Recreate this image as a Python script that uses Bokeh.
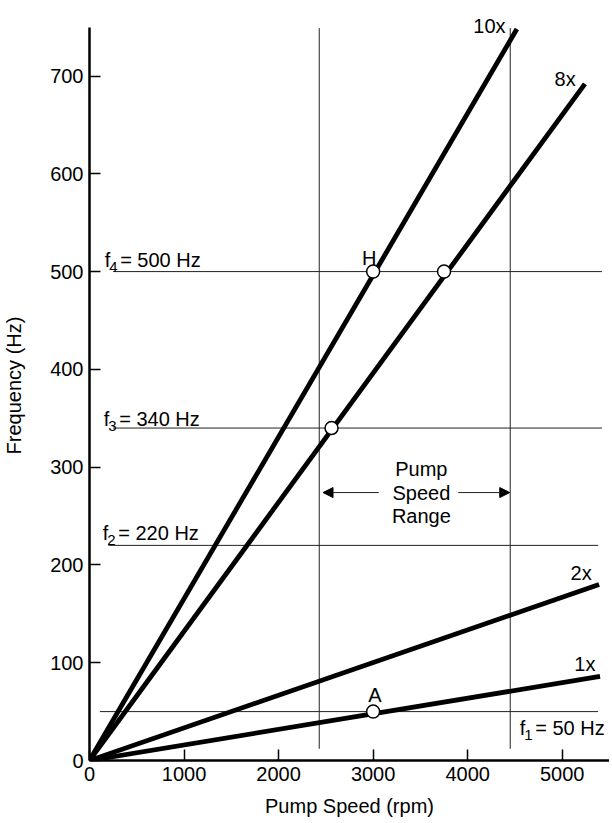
from bokeh.plotting import figure
from bokeh.models import Range1d, FixedTicker, Arrow, NormalHead
from bokeh.core.properties import value
from bokeh.embed import file_html
from bokeh.resources import INLINE

FONT = value("Liberation Sans")

# ---- data ----
# pump order lines (start at origin)
orders = ["1x", "2x", "8x", "10x"]
order_end_rpm = [5400, 5390, 5240, 4520]
order_end_hz = [86, 180, 692, 748]
order_label_rpm = [5240, 5200, 5030, 4230]
order_label_hz = [99, 192, 697, 751]

# forcing frequencies f1..f4
f_sub = ["1", "2", "3", "4"]
f_values = [50, 220, 340, 500]
f_text = ["= 50 Hz", "= 220 Hz", "= 340 Hz", "= 500 Hz"]
f_line_start = [110, 200, 250, 250]
f_line_end = [5380, 5380, 5420, 5420]
f_label_rpm = [4550, 140, 150, 160]
f_label_hz = [33, 233, 349, 512]

# pump speed range
range_rpm = [2430, 4450]
range_bottom_hz = [12, 12]
range_top_hz = [749, 749]
range_text = "Pump\nSpeed\nRange"
range_text_rpm = 3510
range_text_hz = 274
arrow_hz = 274
arrow_tail_rpm = [3060, 3900]
arrow_tip_rpm = [2470, 4445]

# intersection points
pt_rpm = [3000, 3000, 3750, 2560]
pt_hz = [50, 500, 500, 340]
pt_names = ["A", "H"]
pt_name_rpm = [3020, 2958]
pt_name_hz = [67, 514]

x_ticks = [0, 1000, 2000, 3000, 4000, 5000]
y_ticks = [0, 100, 200, 300, 400, 500, 600, 700]

p = figure(frame_width=520, frame_height=750,
           x_range=Range1d(0, 5500), y_range=Range1d(0, 767),
           output_backend="svg", toolbar_location=None,
           min_border_left=79, min_border_top=10, min_border_right=0,
           min_border_bottom=10)
p.outline_line_color = None
p.xgrid.visible = False
p.ygrid.visible = False
p.background_fill_color = "white"

for ax, ticks in ((p.xaxis, x_ticks), (p.yaxis, y_ticks)):
    ax.ticker = FixedTicker(ticks=ticks)
    ax.major_tick_in = 11
    ax.major_tick_out = 0
    ax.minor_tick_line_color = None
    ax.major_tick_line_width = 1.5
    ax.axis_line_width = 2.5
    ax.major_label_text_font = "Liberation Sans"
    ax.major_label_text_font_size = "20px"
    ax.major_label_text_color = "black"
    ax.axis_label_text_font = "Liberation Sans"
    ax.axis_label_text_font_size = "20px"
    ax.axis_label_text_font_style = "normal"
    ax.axis_label_text_color = "black"
p.yaxis.bounds = (0, 750)
p.xaxis.axis_label = "Pump Speed (rpm)"
p.yaxis.axis_label = "Frequency (Hz)"
p.xaxis.major_label_standoff = 6
p.yaxis.major_label_standoff = 6
p.xaxis.axis_label_standoff = 11
p.yaxis.axis_label_standoff = 22

# forcing frequency lines
p.segment(x0=f_line_start, y0=f_values, x1=f_line_end, y1=f_values,
          line_color="#222222", line_width=1)
# pump speed range lines
p.segment(x0=range_rpm, y0=range_bottom_hz, x1=range_rpm, y1=range_top_hz,
          line_color="#222222", line_width=1)

# order lines
p.segment(x0=[0] * len(orders), y0=[0] * len(orders),
          x1=order_end_rpm, y1=order_end_hz,
          line_color="black", line_width=4.8)

# points
p.scatter(pt_rpm, pt_hz, size=13, fill_color="white", line_color="black",
          line_width=1.5)

# labels
p.text(order_label_rpm, order_label_hz, text=orders, text_font=FONT,
       text_font_size="20px", text_align="center", text_baseline="middle")
p.text(pt_name_rpm, pt_name_hz, text=pt_names, text_font=FONT,
       text_font_size="20px", text_align="center", text_baseline="middle")
p.text(f_label_rpm, f_label_hz, text=["f"] * 4, text_font=FONT,
       text_font_size="20px", text_align="left", text_baseline="alphabetic")
p.text(f_label_rpm, f_label_hz, text=f_sub, text_font=FONT,
       text_font_size="15px", text_align="left", text_baseline="alphabetic",
       x_offset=4.5, y_offset=7)
p.text(f_label_rpm, f_label_hz, text=f_text, text_font=FONT,
       text_font_size="20px", text_align="left", text_baseline="alphabetic",
       x_offset=15.5)
p.text([range_text_rpm], [range_text_hz], text=[range_text], text_font=FONT,
       text_font_size="20px", text_align="center", text_baseline="middle",
       text_line_height=1.08)

for tail, tip in zip(arrow_tail_rpm, arrow_tip_rpm):
    p.add_layout(Arrow(end=NormalHead(size=10, fill_color="black",
                                      line_color="black"),
                       x_start=tail, y_start=arrow_hz, x_end=tip, y_end=arrow_hz,
                       line_width=1, line_color="#222222"))

open("out.html", "w").write(file_html(p, INLINE))
